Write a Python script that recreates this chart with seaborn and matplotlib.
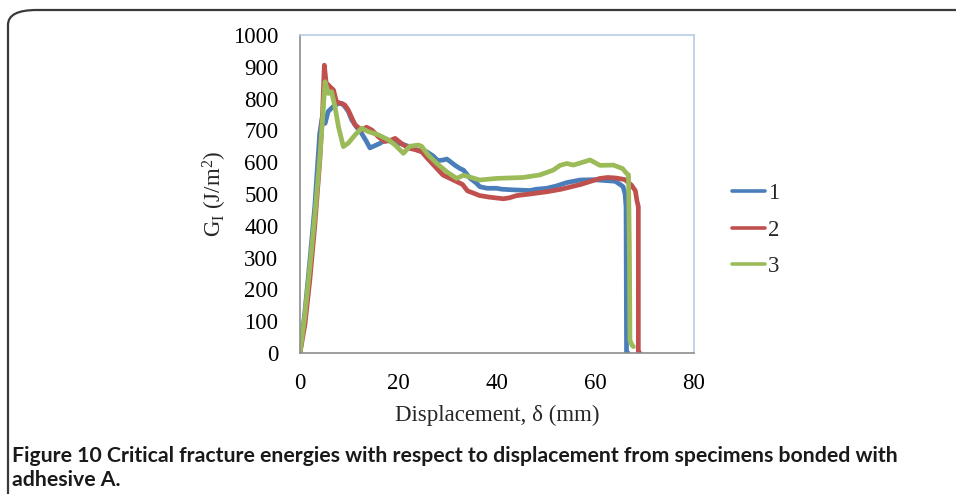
import matplotlib
matplotlib.use("Agg")
import matplotlib.pyplot as plt
from matplotlib.patches import FancyBboxPatch
from matplotlib.lines import Line2D
import seaborn as sns
import pandas as pd

# ---- data ----
x1 = [0, 1, 2, 3, 4, 4.5, 5.1, 5.7, 6.4, 7.1, 8.0, 8.5, 9.1, 9.8, 10.5, 11.5, 12.5, 13.5,
      14.2, 15.2, 16.2, 17.3, 18.5, 19.3, 20.5, 22, 23.5, 25, 25.7, 27, 28, 29.1, 29.8, 30.5,
      31.5, 32.5, 33.2, 34.5, 35.9, 36.5, 38, 39.9, 41, 43.3, 45, 46.7, 48, 50.1, 52, 54.2,
      56.9, 59.6, 62.3, 64, 65, 65.6, 66.0, 66.2, 66.3, 66.6]
y1 = [0, 130, 290, 460, 690, 740, 722, 759, 770, 780, 785, 785, 775, 760, 733, 710, 691, 665,
      645, 652, 659, 670, 665, 660, 658, 650, 640, 632, 633, 620, 605, 607, 610, 602,
      590, 580, 575, 550, 533, 523, 518, 518, 515, 513, 512, 511, 515, 518, 525, 536,
      544, 545, 542, 540, 530, 523, 500, 460, 0, 0]

x2 = [0, 1, 2, 3, 4, 4.6, 4.94, 5.3, 6.1, 6.8, 7.4, 8.3, 9.1, 9.8, 10.5, 11.2, 12.5, 13.5,
      14.6, 15.9, 17.2, 18.6, 19.3, 20.5, 22, 23.3, 24.7, 26, 27.5, 29, 31, 33, 34, 36.5,
      38.5, 41.3, 42.5, 44, 46.7, 50.1, 53, 57, 60.9, 62.5, 64.3, 66, 67.3, 68.1, 68.4, 68.7,
      68.7, 69.0]
y2 = [0, 90, 230, 400, 600, 760, 905, 850, 837, 827, 790, 785, 780, 764, 740, 717, 701, 710,
      701, 680, 665, 670, 675, 660, 644, 640, 633, 610, 585, 560, 545, 530, 510, 495,
      490, 485, 488, 495, 500, 507, 515, 530, 549, 552, 550, 545, 528, 510, 480, 460,
      0, 0]

x3 = [0, 1, 2, 3, 4, 4.6, 5.08, 5.75, 6.4, 7.1, 7.8, 8.8, 9.8, 11.2, 12.5, 13.9, 15.9, 18,
      19.3, 21, 22.3, 24, 24.7, 26, 27.8, 29.8, 31.8, 33.2, 36.5, 39.9, 45.3, 48.7, 51.4,
      52.8, 54.2, 55.5, 57, 58.9, 60.9, 63.6, 65.5, 66.3, 66.7, 66.9, 67.0, 67.4, 67.7]
y3 = [0, 120, 270, 430, 610, 740, 853, 816, 822, 775, 712, 649, 660, 686, 707, 696, 686, 670,
      654, 628, 650, 654, 650, 623, 596, 570, 549, 559, 544, 549, 552, 560, 575,
      590, 596, 591, 598, 607, 590, 591, 580, 565, 560, 300, 40, 25, 20]

series_labels = ["1", "2", "3"]
colors = ["#4A7EBB", "#C0504D", "#9BBB59"]
x_ticks = [0, 20, 40, 60, 80]
y_ticks = [0, 100, 200, 300, 400, 500, 600, 700, 800, 900, 1000]

caption_bold = "Figure 10 Critical fracture energies with respect to displacement from specimens bonded with\nadhesive A."

frames = []
for lab, xs, ys in zip(series_labels, [x1, x2, x3], [y1, y2, y3]):
    frames.append(pd.DataFrame({"x": xs, "y": ys, "series": lab}))
df = pd.concat(frames, ignore_index=True)

# ---- figure ----
sns.set_theme(style="white")
plt.rcParams["font.family"] = ["Liberation Serif", "DejaVu Serif"]
plt.rcParams["mathtext.default"] = "regular"

W, H = 956, 494
fig = plt.figure(figsize=(W / 100, H / 100), dpi=100)
fig.patch.set_facecolor("white")

ax = fig.add_axes([300 / W, 1 - 353 / H, (694 - 300) / W, (353 - 35) / H])
sns.lineplot(data=df, x="x", y="y", hue="series", palette=colors, sort=False,
             estimator=None, linewidth=3.4, ax=ax, legend=False)

ax.set_xlim(0, 80)
ax.set_ylim(0, 1000)
ax.set_xticks(x_ticks)
ax.set_yticks(y_ticks)
ax.set_xticklabels([str(t) for t in x_ticks])
ax.set_yticklabels([str(t) for t in y_ticks])
ax.tick_params(axis="both", direction="in", length=5, width=1, colors="#8C8C8C",
               labelcolor="black", labelsize=16.5)
ax.tick_params(axis="y", pad=15.5)
ax.tick_params(axis="x", pad=14.5)
for s in ["left", "bottom"]:
    ax.spines[s].set_color("#8C8C8C")
    ax.spines[s].set_linewidth(1.2)
for s in ["top", "right"]:
    ax.spines[s].set_color("#B9CDE5")
    ax.spines[s].set_linewidth(1.2)
ax.set_xlabel("Displacement, δ (mm)", fontsize=16.5, labelpad=8)
ax.set_ylabel("G$_{I}$ (J/m$^{2}$)", fontsize=16.5, labelpad=3)

handles = [Line2D([], [], color=c, lw=2.6) for c in colors]
fig.legend(handles, series_labels, loc="center left",
           bbox_to_anchor=(711 / W, 1 - 230 / H), frameon=False, fontsize=16.5,
           handlelength=1.45, handletextpad=0.15, labelspacing=0.68)

# outer rounded frame (extends past right/bottom edges)
frame = FancyBboxPatch((8 / W, -0.2), 1.2, 1 - 10 / H + 0.2,
                       boxstyle="round,pad=0,rounding_size=0.03",
                       transform=fig.transFigure, fill=False,
                       edgecolor="#3A3A3A", linewidth=1.6, clip_on=False)
fig.patches.append(frame)

fig.text(12 / W, 1 - 468 / H, caption_bold, fontsize=15.3, fontweight="bold",
         family=["Lato", "DejaVu Sans"], va="center", ha="left", color="#1a1a1a",
         linespacing=1.3)

fig.savefig("out.png", dpi=100, facecolor="white")
